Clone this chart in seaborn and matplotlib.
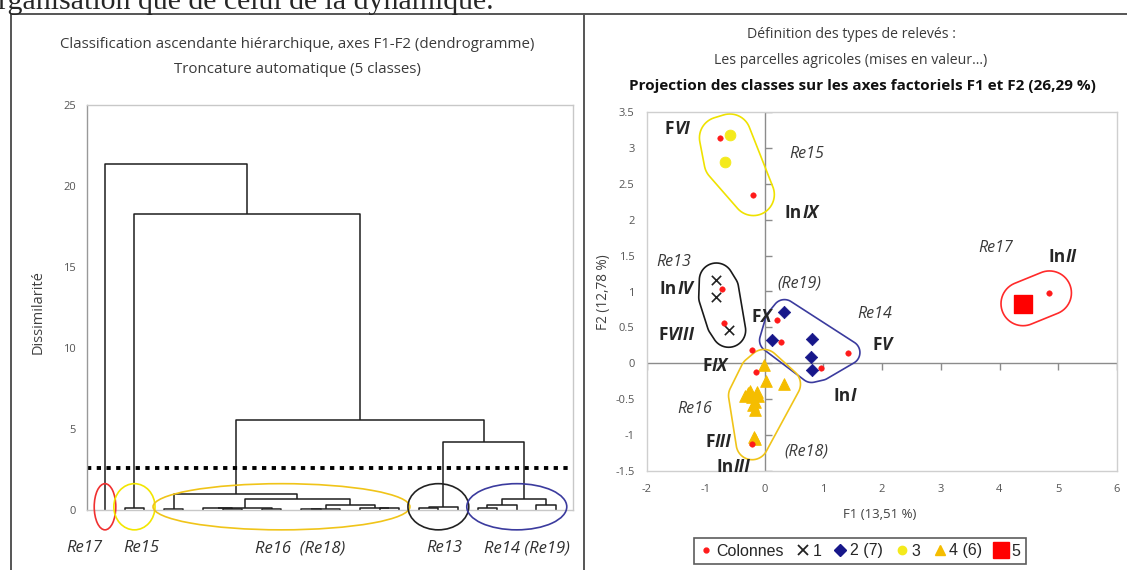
import numpy as np
import pandas as pd
import seaborn as sns
import matplotlib.pyplot as plt
from matplotlib.lines import Line2D
from matplotlib.patches import Ellipse, Polygon
from matplotlib.offsetbox import TextArea, HPacker, AnnotationBbox

W, H = 1127, 570

# ---------------- dendrogram data ----------------
n_leaves = 24
# (child a, child b, height) ; new nodes get ids n_leaves, n_leaves+1, ...
merges = [
    (1, 2, 0.10), (3, 4, 0.06), (6, 7, 0.06), (8, 9, 0.05), (5, 26, 0.10),
    (28, 27, 0.14), (10, 11, 0.04), (30, 12, 0.07), (14, 15, 0.10),
    (13, 32, 0.14), (31, 33, 0.30), (29, 34, 0.65), (25, 35, 1.00),
    (16, 17, 0.10), (37, 18, 0.20), (19, 20, 0.10), (39, 21, 0.30),
    (22, 23, 0.30), (40, 41, 0.70), (38, 42, 4.20), (36, 43, 5.55),
    (24, 44, 18.3), (0, 45, 21.35),
]
cut_level = 2.6
group_names = ["Re17", "Re15", "Re16  (Re18)", "Re13", "Re14 (Re19)"]
group_first = [0, 1, 3, 16, 19]
group_last = [0, 2, 15, 18, 23]
group_colors = ["#f03030", "#f2e600", "#f0c419", "#222222", "#3b3b9e"]
dendro_ticks = [0, 5, 10, 15, 20, 25]

# ---------------- factorial map data ----------------
col_x = [-0.75, -0.19, -0.73, -0.69, 0.22, 0.28, -0.21, 0.96, 1.42, -0.14, -0.21, 4.85]
col_y = [3.14, 2.35, 1.04, 0.56, 0.60, 0.30, 0.19, -0.07, 0.15, -0.12, -1.12, 0.98]
col_class = [3, 3, 1, 1, 2, 2, 0, 2, 2, 4, 4, 5]

c1_x = [-0.82, -0.83, -0.61]
c1_y = [1.16, 0.92, 0.46]
c2_x = [0.34, 0.12, 0.81, 0.79, 0.80]
c2_y = [0.72, 0.32, 0.34, 0.09, -0.10]
c3_x = [-0.59, -0.67]
c3_y = [3.18, 2.80]
c4_x = [-0.01, 0.02, 0.34, -0.22, -0.34, -0.11, -0.17, -0.17, -0.25, -0.28,
        -0.13, -0.20, -0.18, -0.17]
c4_y = [-0.03, -0.24, -0.29, -0.47, -0.45, -0.45, -0.54, -0.65, -0.38, -0.42,
        -0.40, -0.58, -1.03, -1.06]
c5_x = [4.40]
c5_y = [0.83]

bold_labels = [("F", "VI"), ("In", "IX"), ("In", "IV"), ("F", "VIII"), ("F", "X"),
               ("F", "V"), ("F", "IX"), ("In", "I"), ("F", "III"), ("In", "III"),
               ("In", "II")]
bold_x = [-1.48, 0.63, -1.50, -1.50, -0.05, 2.0, -0.84, 1.37, -0.78, -0.53, 5.07]
bold_y = [3.27, 2.09, 1.03, 0.40, 0.65, 0.25, -0.04, -0.46, -1.09, -1.45, 1.48]
re_labels = ["Re15", "Re13", "(Re19)", "Re14", "Re16", "(Re18)", "Re17"]
re_x = [0.72, -1.55, 0.60, 1.88, -1.18, 0.72, 3.94]
re_y = [2.92, 1.41, 1.11, 0.68, -0.64, -1.23, 1.60]

x_ticks = [-2, -1, 0, 1, 2, 3, 4, 5, 6]
y_ticks = [-1.5, -1, -0.5, 0, 0.5, 1, 1.5, 2, 2.5, 3, 3.5]

RED, NAVY, YEL, GOLD = "#ff1a1a", "#17178a", "#f4ea1c", "#f5bd00"

sns.set_style("white")
plt.rcParams["font.family"] = ["Open Sans", "DejaVu Sans"]

fig = plt.figure(figsize=(W / 100, H / 100), dpi=100)


def fx(px):
    return px / W


def fy(py):
    return 1 - py / H


# page text and table lines
fig.text(fx(-2), fy(9), "rganisation que de celui de la dynamique.",
         family="Liberation Serif", fontsize=21.5, va="baseline", ha="left")
for line in [((11, 1127), (14, 14)), ((11, 11), (14, 570)), ((584, 584), (14, 570))]:
    fig.add_artist(Line2D([fx(v) for v in line[0]], [fy(v) for v in line[1]],
                          color="#555555", lw=1.4))

# ---------------- dendrogram ----------------
ax1 = fig.add_axes([fx(87), fy(510), fx(573) - fx(87), fy(105) - fy(510)])
scale = (556 - 105) / (n_leaves - 1)
ax1.set_xlim(-(105 - 87) / scale, (573 - 105) / scale)
ax1.set_ylim(0, 25)

pos = {i: float(i) for i in range(n_leaves)}
hgt = {i: 0.0 for i in range(n_leaves)}
for k, (a, b, h) in enumerate(merges):
    ax1.plot([pos[a], pos[a], pos[b], pos[b]], [hgt[a], h, h, hgt[b]],
             color="#1e1e1e", lw=1.1, solid_capstyle="butt")
    pos[n_leaves + k] = (pos[a] + pos[b]) / 2
    hgt[n_leaves + k] = h

ax1.axhline(cut_level, color="black", lw=2.8, ls=(0, (1.1, 1.4)))

for name, a, b, c in zip(group_names, group_first, group_last, group_colors):
    ax1.add_patch(Ellipse(((a + b) / 2, 0.2), b - a + 1.1, 2.85, fill=False,
                          ec=c, lw=1.2, clip_on=False, zorder=3))

label_x = [-1.05, 1.83, 9.95, 17.3, 21.5]
for name, lx in zip(group_names, label_x):
    ax1.text(lx, -0.094, name, transform=ax1.get_xaxis_transform(),
             ha="center", va="center", style="italic", fontsize=12, color="#303030")

ax1.set_yticks(dendro_ticks)
ax1.set_yticklabels([str(t) for t in dendro_ticks])
ax1.set_xticks([])
ax1.tick_params(axis="y", length=4, width=0.8, color="#888888", labelsize=8,
                labelcolor="#555555", pad=4)
for s in ax1.spines.values():
    s.set_color("#c8c8c8")
    s.set_linewidth(1.0)
ax1.spines["left"].set_color("#999999")

fig.text(fx(38), fy(312), "Dissimilarité", rotation=90, ha="center", va="center",
         fontsize=10.5, color="#404040")
fig.text(fx(297), fy(45), "Classification ascendante hiérarchique, axes F1-F2 (dendrogramme)",
         ha="center", va="center", fontsize=10.8, color="#3a3a3a")
fig.text(fx(297), fy(70), "Troncature automatique (5 classes)",
         ha="center", va="center", fontsize=10.8, color="#3a3a3a")

# ---------------- factorial map ----------------
ax2 = fig.add_axes([fx(647), fy(471), fx(1117) - fx(647), fy(112) - fy(471)])
ax2.set_xlim(-2, 6)
ax2.set_ylim(-1.5, 3.5)

ax2.axhline(0, color="#8c8c8c", lw=1, zorder=1)
ax2.axvline(0, color="#8c8c8c", lw=1, zorder=1)
ax2.plot(x_ticks, [0] * len(x_ticks), ls="", marker=3, ms=5, mew=1, color="#8c8c8c")
ax2.plot([0] * len(y_ticks), y_ticks, ls="", marker=1, ms=5, mew=1, color="#8c8c8c")


def convex_hull(p):
    p = sorted(map(tuple, p))

    def cross(o, a, b):
        return (a[0] - o[0]) * (b[1] - o[1]) - (a[1] - o[1]) * (b[0] - o[0])

    lower, upper = [], []
    for q in p:
        while len(lower) >= 2 and cross(lower[-2], lower[-1], q) <= 0:
            lower.pop()
        lower.append(q)
    for q in reversed(p):
        while len(upper) >= 2 and cross(upper[-2], upper[-1], q) <= 0:
            upper.pop()
        upper.append(q)
    return np.array(lower[:-1] + upper[:-1])


def hull_outline(xs, ys, rad, color):
    # rounded hull built in pixels so the margin stays round
    pts = ax2.transData.transform(np.column_stack([xs, ys]))
    ang = np.linspace(0, 2 * np.pi, 60, endpoint=False)
    ring = rad * np.column_stack([np.cos(ang), np.sin(ang)])
    cloud = (pts[:, None, :] + ring[None, :, :]).reshape(-1, 2)
    outline = ax2.transData.inverted().transform(convex_hull(cloud))
    ax2.add_patch(Polygon(outline, closed=True, fill=False, ec=color, lw=1.2, zorder=2))


classes = {1: (c1_x, c1_y, 17, "#1a1a1a"), 2: (c2_x, c2_y, 12, "#3b3b9e"),
           3: (c3_x, c3_y, 21, "#efe200"), 4: (c4_x, c4_y, 16, "#f0c419"),
           5: (c5_x, c5_y, 22, "#ff2a2a")}
for k, (xs, ys, rad, c) in classes.items():
    hx = list(xs) + [x for x, g in zip(col_x, col_class) if g == k]
    hy = list(ys) + [y for y, g in zip(col_y, col_class) if g == k]
    hull_outline(hx, hy, rad, c)

sns.scatterplot(x=c4_x, y=c4_y, marker="^", s=70, color=GOLD, edgecolor=GOLD, ax=ax2, zorder=4)
sns.scatterplot(x=c3_x, y=c3_y, marker="o", s=60, color=YEL, edgecolor=YEL, ax=ax2, zorder=4)
sns.scatterplot(x=c2_x, y=c2_y, marker="D", s=40, color=NAVY, edgecolor=NAVY, ax=ax2, zorder=4)
sns.scatterplot(x=c1_x, y=c1_y, marker="x", s=45, color="#222222", linewidth=1.2, ax=ax2, zorder=4)
sns.scatterplot(x=c5_x, y=c5_y, marker="s", s=150, color="#ff0000", edgecolor="#ff0000", ax=ax2, zorder=4)
sns.scatterplot(x=col_x, y=col_y, marker="o", s=16, color=RED, edgecolor=RED, ax=ax2, zorder=5)

for (a, b), x, y in zip(bold_labels, bold_x, bold_y):
    box = HPacker(children=[TextArea(a, textprops=dict(weight="bold", size=12.5)),
                            TextArea(b, textprops=dict(weight="bold", style="italic", size=12.5))],
                  pad=0, sep=0, align="baseline")
    ax2.add_artist(AnnotationBbox(box, (x, y), frameon=False, pad=0,
                                  box_alignment=(0.5, 0.5), zorder=6))
for t, x, y in zip(re_labels, re_x, re_y):
    ax2.text(x, y, t, ha="center", va="center", style="italic", fontsize=11.5,
             color="#3a3a3a", zorder=6)

ax2.set_xticks(x_ticks)
ax2.set_xticklabels([str(t) for t in x_ticks])
ax2.set_yticks(y_ticks)
ax2.set_yticklabels([("%g" % t) for t in y_ticks])
ax2.tick_params(length=0, labelsize=8, labelcolor="#555555", pad=9)
for s in ax2.spines.values():
    s.set_color("#cfcfcf")
    s.set_linewidth(1.0)

fig.text(fx(604), fy(292), "F2 (12,78 %)", rotation=90, ha="center", va="center",
         fontsize=9.8, color="#404040")
fig.text(fx(880), fy(515), "F1 (13,51 %)", ha="center", va="center",
         fontsize=9.5, color="#404040")
fig.text(fx(851), fy(35), "Définition des types de relevés :", ha="center", va="center",
         fontsize=10.2, color="#3a3a3a")
fig.text(fx(851), fy(60), "Les parcelles agricoles (mises en valeur...)", ha="center",
         va="center", fontsize=10.2, color="#3a3a3a")
fig.text(fx(862), fy(86), "Projection des classes sur les axes factoriels F1 et F2 (26,29 %)",
         ha="center", va="center", fontsize=11, weight="bold", color="#111111")

handles = [
    Line2D([], [], ls="", marker="o", ms=3.5, color=RED),
    Line2D([], [], ls="", marker="x", ms=7, mew=1.3, color="#222222"),
    Line2D([], [], ls="", marker="D", ms=6, color=NAVY),
    Line2D([], [], ls="", marker="o", ms=6, color=YEL),
    Line2D([], [], ls="", marker="^", ms=7, color=GOLD),
    Line2D([], [], ls="", marker="s", ms=12, color="#ff0000"),
]
leg = fig.legend(handles, ["Colonnes", "1", "2 (7)", "3", "4 (6)", "5"], ncol=6,
                 loc="center", bbox_to_anchor=(fx(860), fy(551)), frameon=True,
                 fancybox=False, handlelength=0.8, handletextpad=0.2,
                 columnspacing=0.8, borderpad=0.35,
                 prop={"family": "Liberation Sans", "size": 11.5})
leg.get_frame().set_edgecolor("#333333")
leg.get_frame().set_linewidth(1.2)

fig.savefig("out.png", dpi=100)
